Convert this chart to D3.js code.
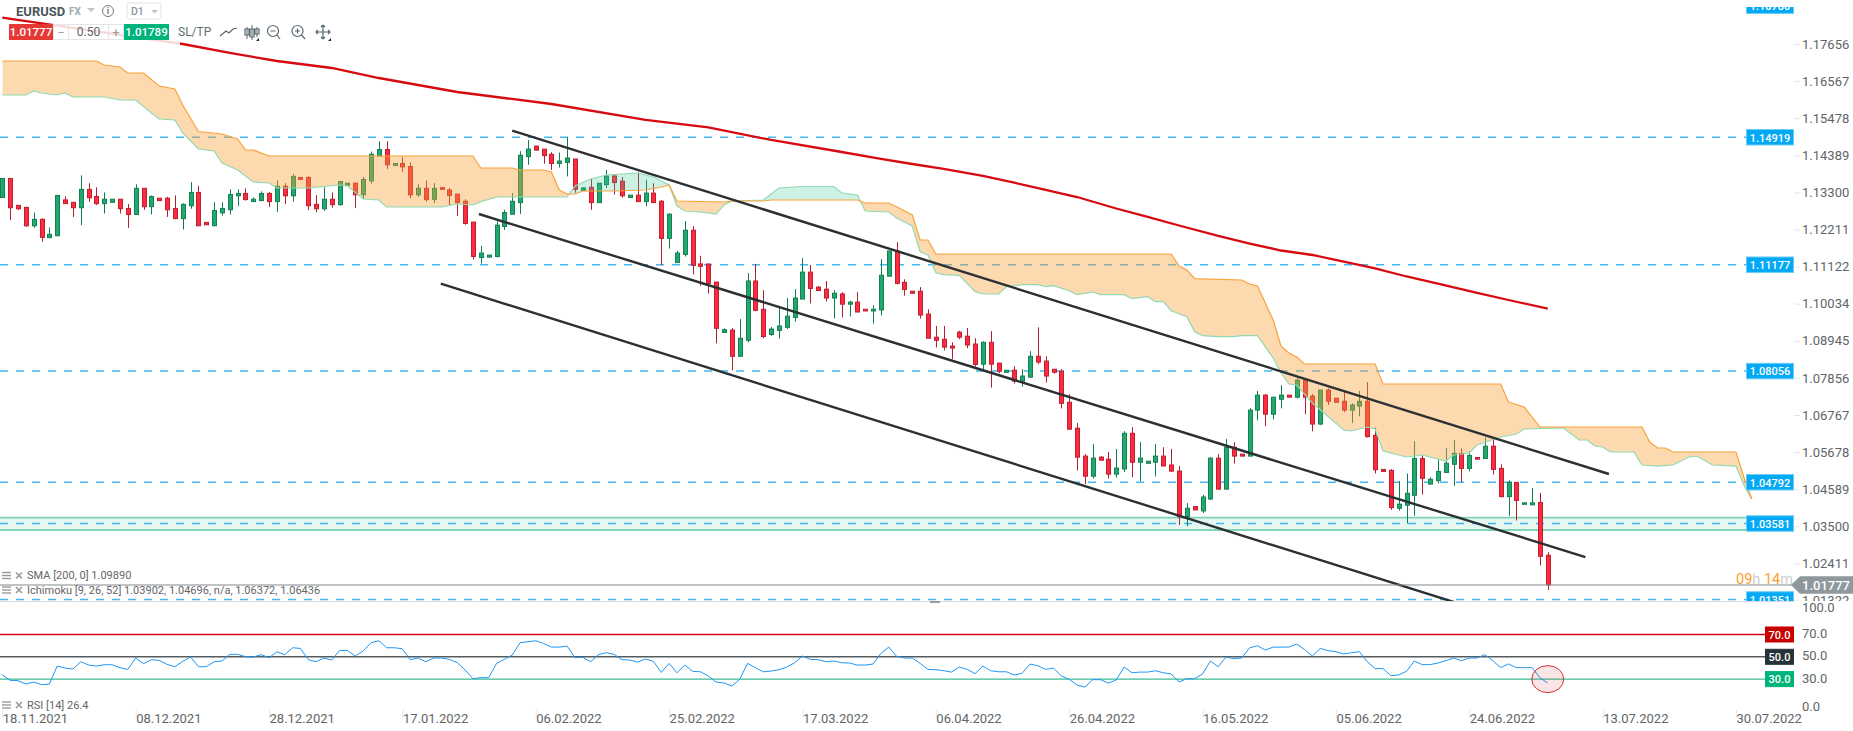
<!DOCTYPE html>
<html><head><meta charset="utf-8"><title>EURUSD</title>
<script src="https://cdnjs.cloudflare.com/ajax/libs/d3/7.8.5/d3.min.js"></script>
<style>
html,body{margin:0;padding:0;background:#fff;overflow:hidden}
svg{display:block;font-family:Roboto,sans-serif}
</style></head><body><svg id="c" width="1853" height="731"></svg>
<script>
// prices in 1/10000
const opens=[11315,11371,11292,11286,11232,11251,11197,11203,11308,11301,
11285,11339,11318,11297,11301,11310,11283,11265,11342,11288,
11313,11313,11283,11253,11291,11330,11242,11232,11270,11279,
11320,11327,11303,11306,11327,11303,11348,11320,11374,11374,
11295,11282,11310,11294,11351,11357,11323,11364,11437,11456,
11409,11415,11406,11323,11342,11310,11344,11337,11325,11304,
11243,11139,11140,11142,11230,11266,11300,11435,11466,11457,
11442,11415,11418,11428,11336,11345,11300,11353,11378,11363,
11315,11322,11303,11328,11304,11195,11124,11148,11219,11120,
11120,11067,10919,10926,10849,10896,11070,10987,10913,10925,
10934,10963,11017,11096,11052,11046,11020,11032,11002,11008,
10987,10982,10985,11084,11158,11066,11040,11040,10973,10905,
10899,10879,10920,10908,10885,10826,10890,10829,10802,10808,
10776,10788,10849,10835,10811,10805,10714,10638,10556,10497,
10553,10547,10503,10518,10623,10538,10535,10538,10556,10530,
10512,10378,10408,10395,10430,10550,10459,10582,10562,10556,
10691,10735,10679,10723,10735,10729,10779,10732,10650,10750,
10726,10717,10691,10703,10717,10617,10517,10514,10403,10412,
10441,10549,10474,10484,10508,10532,10564,10520,10552,10549,
10585,10520,10437,10479,10415,10413,10420,10265];
const closes=[11371,11285,11282,11232,11251,11198,11207,11321,11297,11285,
11339,11314,11297,11310,11310,11282,11265,11342,11288,11318,
11306,11279,11253,11295,11330,11232,11235,11277,11283,11324,
11327,11309,11310,11327,11303,11348,11320,11377,11368,11291,
11282,11310,11294,11362,11357,11323,11368,11442,11456,11411,
11415,11405,11323,11342,11309,11342,11339,11321,11300,11239,
11142,11152,11146,11234,11271,11304,11439,11457,11454,11438,
11415,11422,11431,11339,11343,11300,11357,11378,11359,11320,
11322,11303,11328,11300,11195,11266,11152,11219,11116,11113,
11063,10931,10927,10849,10902,11070,10984,10907,10929,10938,
10967,11020,11096,11048,11042,11020,11034,11002,11008,10979,
10982,10987,11087,11158,11063,11045,11034,10970,10902,10896,
10876,10873,10905,10882,10825,10890,10826,10805,10808,10776,
10791,10849,10832,10791,10802,10711,10635,10553,10497,10550,
10544,10503,10521,10623,10538,10550,10541,10556,10527,10512,
10378,10403,10398,10436,10550,10459,10582,10556,10556,10691,
10735,10679,10729,10735,10729,10779,10729,10650,10750,10717,
10714,10691,10706,10717,10613,10516,10511,10405,10415,10447,
10549,10491,10488,10511,10535,10564,10520,10558,10547,10585,
10517,10437,10479,10426,10419,10419,10262,10178];
const highs=[11371,11371,11292,11288,11271,11254,11227,11323,11319,11301,
11380,11357,11345,11330,11310,11310,11296,11354,11342,11321,
11313,11317,11321,11298,11360,11349,11242,11301,11301,11339,
11339,11342,11315,11333,11331,11365,11357,11384,11374,11377,
11322,11345,11330,11362,11357,11359,11375,11450,11480,11480,
11415,11433,11418,11354,11365,11357,11344,11343,11325,11310,
11243,11173,11146,11245,11279,11328,11451,11484,11466,11457,
11448,11447,11492,11428,11345,11369,11357,11396,11384,11375,
11322,11389,11367,11357,11308,11269,11159,11246,11231,11144,
11120,11067,10931,10932,10958,11093,11120,11043,10935,10994,
11020,11046,11137,11117,11055,11070,11043,11037,11012,11037,
10987,10999,11134,11158,11184,11075,11040,11052,10987,10938,
10938,10890,10924,10932,10902,10893,10923,10829,10808,10820,
10811,10864,10934,10849,10811,10811,10738,10653,10562,10591,
10556,10568,10577,10629,10641,10597,10541,10591,10582,10577,
10527,10418,10408,10442,10553,10562,10606,10597,10562,10697,
10747,10738,10729,10764,10735,10785,10785,10738,10750,10755,
10726,10745,10711,10747,10773,10639,10517,10518,10483,10505,
10600,10558,10494,10545,10579,10603,10579,10570,10552,10611,
10603,10532,10485,10479,10419,10462,10448,10274];
const lows=[11315,11249,11278,11229,11226,11185,11197,11201,11297,11258,
11234,11302,11293,11268,11301,11268,11226,11265,11279,11265,
11306,11258,11253,11221,11282,11232,11235,11232,11262,11265,
11290,11306,11303,11304,11287,11273,11296,11303,11368,11278,
11272,11276,11285,11291,11351,11284,11311,11356,11435,11399,
11409,11391,11313,11317,11303,11299,11339,11292,11261,11235,
11133,11121,11140,11139,11220,11266,11267,11411,11454,11414,
11396,11403,11377,11329,11336,11279,11300,11343,11324,11315,
11315,11303,11289,11300,11116,11165,11124,11142,11089,11056,
11033,10887,10919,10808,10849,10890,10981,10902,10909,10901,
10929,10951,11017,11004,11042,11010,10960,10963,10966,10978,
10982,10945,10969,11084,11060,11027,11034,10960,10902,10875,
10866,10841,10899,10873,10819,10808,10757,10799,10802,10769,
10760,10785,10826,10772,10798,10696,10635,10514,10474,10490,
10544,10490,10493,10509,10494,10482,10535,10496,10526,10509,
10354,10350,10398,10389,10427,10459,10459,10534,10556,10556,
10661,10644,10664,10696,10729,10725,10679,10629,10647,10706,
10714,10685,10653,10673,10611,10505,10511,10398,10396,10358,
10381,10443,10472,10476,10507,10469,10480,10511,10547,10549,
10502,10435,10381,10367,10415,10412,10235,10163];
// SMA 200: [bar, price]
const sma=[[0,1.18428],[23,1.17656],[29,1.17392],[35,1.17157],[42,1.16952],[48,1.16658],[58,1.16247],[70,1.15895],[82,1.15426],[90,1.15206],[98,1.14839],[107,1.14486],[112,1.14281],[116,1.14134],[120,1.13993],[125,1.13782],[129,1.13585],[133,1.13371],[137,1.13165],[142,1.12828],[146,1.12584],[150,1.12329],[155,1.12021],[159,1.118],[163,1.11595],[167,1.11463],[171,1.11272],[175,1.11067],[179,1.10832],[183,1.10621],[188,1.10348],[192,1.10142],[197,1.0989]];
// Ichimoku senkou B (orange)
const spanB=[[0,1.17157],[12,1.17157],[13,1.1704],[15,1.16981],[16,1.16805],[18,1.16805],[20,1.16424],[22,1.16336],[23,1.15866],[25,1.15088],[28,1.15015],[30,1.14868],[31,1.14545],[32,1.14545],[34,1.14369],[60,1.14369],[61,1.14017],[65,1.14017],[66,1.13958],[69,1.13958],[70,1.13899],[71,1.13371],[72,1.13254],[73,1.13254],[74,1.13342],[78,1.13342],[82,1.13371],[84,1.13459],[85,1.13518],[86,1.13048],[92,1.13019],[93,1.13048],[97,1.13048],[98,1.13077],[109,1.13077],[110,1.12989],[113,1.12989],[114,1.12881],[116,1.12637],[117,1.11903],[118,1.11903],[119,1.11492],[149,1.11492],[150,1.1114],[151,1.11022],[152,1.10767],[158,1.10729],[159,1.10612],[160,1.10553],[162,1.09555],[163,1.08792],[164,1.08586],[165,1.08469],[166,1.08263],[175,1.08263],[176,1.07676],[191,1.07676],[192,1.07148],[194,1.07001],[196,1.06414],[209,1.06414],[210,1.05974],[211,1.05798],[212,1.05798],[213,1.0568],[221,1.0568],[222,1.04947],[223,1.04301]];
// Ichimoku senkou A (green)
const spanA=[[0,1.16159],[3,1.16159],[4,1.16277],[5,1.16218],[7,1.16159],[8,1.16218],[9,1.16101],[13,1.16101],[15,1.16013],[17,1.16013],[19,1.15631],[20,1.15455],[22,1.15426],[23,1.15044],[25,1.14574],[27,1.14516],[28,1.14163],[30,1.13958],[32,1.13606],[34,1.13576],[35,1.1343],[39,1.1343],[43,1.13518],[44,1.13488],[46,1.13107],[48,1.13077],[49,1.12872],[56,1.12872],[58,1.1296],[60,1.12931],[61,1.13028],[63,1.13165],[72,1.13165],[73,1.13488],[75,1.13694],[77,1.13811],[81,1.1387],[83,1.13753],[85,1.13518],[86,1.12901],[87,1.12754],[89,1.12725],[91,1.12666],[92,1.12931],[93,1.13048],[97,1.13077],[99,1.1343],[102,1.13474],[106,1.13474],[107,1.13283],[109,1.13224],[110,1.12754],[113,1.12725],[114,1.12549],[116,1.12314],[117,1.1156],[118,1.11463],[119,1.10943],[120,1.10885],[122,1.10867],[124,1.10386],[125,1.10318],[127,1.10318],[128,1.10532],[130,1.10591],[132,1.10591],[133,1.10532],[134,1.10562],[136,1.10415],[137,1.10298],[139,1.10377],[140,1.10298],[143,1.10298],[144,1.1018],[146,1.10239],[147,1.10092],[148,1.10092],[149,1.09828],[151,1.09652],[152,1.09212],[153,1.09094],[155,1.09065],[157,1.09065],[158,1.09094],[160,1.09094],[162,1.0844],[163,1.08],[164,1.07676],[165,1.07647],[167,1.07119],[171,1.06326],[172,1.06297],[174,1.06414],[175,1.06355],[176,1.0571],[179,1.05534],[181,1.05593],[184,1.05417],[185,1.05593],[187,1.05651],[188,1.05886],[191,1.06121],[193,1.06209],[194,1.06355],[199,1.06385],[201,1.06033],[202,1.06033],[203,1.05857],[204,1.05828],[205,1.0568],[208,1.0568],[209,1.05299],[211,1.05269],[213,1.05299],[215,1.05534],[216,1.05563],[218,1.05299],[221,1.05269],[222,1.04712],[223,1.04301]];
const rsi=[33.7,28.9,28.6,25.6,27.4,25.0,25.6,41.7,39.9,39.0,45.6,42.6,41.7,42.9,42.9,40.2,38.7,48.9,43.8,47.4,46.8,43.2,41.1,45.9,49.8,41.1,41.1,45.6,46.2,52.2,52.2,50.1,49.8,51.9,49.2,54.5,51.9,58.1,57.5,47.4,45.6,48.9,47.1,55.7,55.7,50.7,55.2,62.6,64.4,58.1,58.1,57.2,47.4,48.9,45.6,48.9,48.9,47.7,44.7,38.2,30.4,31.3,31.3,44.1,47.7,51.6,62.6,63.5,64.4,62.0,58.7,58.7,59.6,49.2,49.5,45.6,51.9,53.7,52.2,
47.4,47.1,45.3,48.0,45.9,36.0,44.1,35.7,42.6,36.9,36.6,32.8,27.4,26.5,23.8,29.8,44.1,40.2,36.6,37.2,38.4,40.8,44.7,50.7,47.7,47.4,45.6,46.2,44.7,44.4,42.6,42.6,43.5,53.1,58.7,50.4,48.9,48.9,44.1,38.7,38.4,37.5,36.3,40.8,38.7,34.9,41.7,37.5,36.6,36.6,33.7,35.2,43.5,42.0,38.7,39.9,32.8,29.8,24.7,22.9,29.5,29.5,26.5,29.2,40.8,35.7,36.3,36.3,37.5,35.7,34.6,27.4,30.4,30.4,34.6,46.2,41.1,49.8,48.3,48.9,58.1,59.9,56.0,58.7,58.7,58.7,61.4,56.6,50.7,57.5,
55.5,54.6,52.5,53.7,54.6,45.6,39.4,39.4,33.1,33.7,37.0,46.2,43.0,43.0,44.4,46.5,48.9,46.5,48.9,48.9,51.9,46.5,40.3,43.6,40.3,40.3,40.3,31.3,26.4];
const priceTicks=[1.17656,1.16567,1.15478,1.14389,1.133,1.12211,1.11122,1.10034,1.08945,1.07856,1.06767,1.05678,1.04589,1.035,1.02411,1.01322];
const levels=[1.14919,1.11177,1.08056,1.04792,1.03581,1.01351];
const topLevel=1.1878;
const zone=[1.03752,1.03391];
const lastPrice=1.01777;
const rsiLevels=[[70,"#d0021b","#c70000"],[50,"#555c60","#263238"],[30,"#3dbb94","#00b37a"]];
const rsiTicks=[100,70,50,30,0];
const dateBars=[0,17,34,51,68,85,102,119,136,153,170,187,204,221];
const dateLabels=["18.11.2021","08.12.2021","28.12.2021","17.01.2022","06.02.2022","25.02.2022","17.03.2022","06.04.2022","26.04.2022","16.05.2022","05.06.2022","24.06.2022","13.07.2022","30.07.2022"];
// channel lines: start and end as [bar, price]
const channel=[[[65,1.15112],[204.8,1.05035]],[[60.76,1.12666],[201.8,1.02598]],[[55.9,1.1062],[185.3,1.01258]]];

const W=1853,H=731,PANEL=1746,TAGR=1794;
const svg=d3.select("#c");
const x=d3.scaleLinear().domain([0,221]).range([2.3,1736]);
const y=d3.scaleLinear().domain([1.17656,1.01322]).range([44,600.5]);
const yr=d3.scaleLinear().domain([0,100]).range([712.6,601]);
const P=1e-4;
const defs=svg.append("defs");
defs.append("clipPath").attr("id","mainClip").append("rect").attr("y",7).attr("width",W).attr("height",594);
const main=svg.append("g").attr("clip-path","url(#mainClip)");

// zone
main.append("rect").attr("x",0).attr("width",PANEL).attr("y",y(zone[0])).attr("height",y(zone[1])-y(zone[0])).attr("fill","#e6f6f1");
zone.forEach(z=>main.append("line").attr("x1",0).attr("x2",PANEL).attr("y1",y(z)).attr("y2",y(z)).attr("stroke","#7fd4b6").attr("stroke-width",1.8));
// level lines
main.selectAll("line.lv").data(levels).join("line").attr("class","lv").attr("x1",0).attr("x2",PANEL)
 .attr("y1",d=>y(d)).attr("y2",d=>y(d)).attr("stroke","#42b9f3").attr("stroke-width",1.4).attr("stroke-dasharray","8 8");

// candles
const bars=opens.map((o,i)=>({i,o:o*P,c:closes[i]*P,h:highs[i]*P,l:lows[i]*P}));
const cg=main.selectAll("g.k").data(bars).join("g").attr("class","k");
const up=d=>d.c>=d.o;
cg.append("line").attr("x1",d=>Math.round(x(d.i))+.5).attr("x2",d=>Math.round(x(d.i))+.5)
 .attr("y1",d=>y(d.h)).attr("y2",d=>y(d.l)).attr("stroke",d=>up(d)?"#0f7d52":"#b2202f").attr("stroke-width",1);
cg.append("rect").attr("x",d=>Math.round(x(d.i))-1.5).attr("width",4)
 .attr("y",d=>y(Math.max(d.o,d.c))).attr("height",d=>Math.max(y(Math.min(d.o,d.c))-y(Math.max(d.o,d.c)),1.5))
 .attr("fill",d=>up(d)?"#21a871":"#fb2b40").attr("stroke",d=>up(d)?"#13824f":"#c11f30").attr("stroke-width",1);

// cloud
const lineP=d3.line().x(d=>x(d[0])).y(d=>y(d[1]));
const aboveA=d3.area().x(d=>x(d[0])).y0(0).y1(d=>y(d[1]));
const belowA=d3.area().x(d=>x(d[0])).y0(H).y1(d=>y(d[1]));
defs.append("clipPath").attr("id","aAbove").append("path").attr("d",aboveA(spanA));
defs.append("clipPath").attr("id","aBelow").append("path").attr("d",belowA(spanA));
const poly=lineP(spanB.concat(spanA.slice().reverse()))+"Z";
main.append("g").attr("clip-path","url(#aAbove)").append("path").attr("d",poly).attr("fill","#f7a034").attr("fill-opacity",.4);
main.append("g").attr("clip-path","url(#aBelow)").append("path").attr("d",poly).attr("fill","#3cc896").attr("fill-opacity",.25);
main.append("path").attr("d",lineP(spanA)).attr("fill","none").attr("stroke","#92d9b2").attr("stroke-width",1.2);
main.append("path").attr("d",lineP(spanB)).attr("fill","none").attr("stroke","#f9a23c").attr("stroke-width",1.2);

// channel
main.selectAll("path.ch").data(channel).join("path").attr("class","ch").attr("d",lineP)
 .attr("fill","none").attr("stroke","#2b3033").attr("stroke-width",2.4);
// last price line
main.append("line").attr("x1",0).attr("x2",1792).attr("y1",y(lastPrice)).attr("y2",y(lastPrice)).attr("stroke","#858b8e").attr("stroke-width",1);

// price axis
const ax=d3.axisRight(y).tickValues(priceTicks).tickFormat(d3.format(".5f")).tickSize(6).tickPadding(2);
const axg=main.append("g").attr("transform",`translate(${TAGR},0)`).call(ax);
axg.select(".domain").remove();
axg.selectAll(".tick line").attr("stroke","#e6e6e6");
axg.selectAll(".tick text").attr("fill","#5f6568").attr("font-size",13).attr("font-family","Roboto");

// level tags
function tag(g,cy,txt,fill,border,x0=PANEL,x1=TAGR,h=15.5){
  g.append("rect").attr("x",x0+.5).attr("y",cy-h/2).attr("width",x1-x0-1).attr("height",h).attr("fill",fill).attr("stroke",border||fill);
  g.append("text").attr("x",(x0+x1)/2).attr("y",cy+.5).attr("dy",".35em").attr("text-anchor","middle").attr("fill","#fff")
   .attr("font-size",11).attr("font-weight",500).text(txt);
}
levels.forEach(l=>tag(main,y(l),d3.format(".5f")(l),"#03a9f4","#6cccf9"));
tag(main,y(topLevel),d3.format(".5f")(topLevel),"#03a9f4","#6cccf9");

// last price tag
const ly=y(lastPrice);
main.append("text").attr("x",1736).attr("y",ly-.5).attr("font-size",14.5)
 .call(t=>{[["09","#f9a02e"],["h","#cfcfcf"],[" 14","#f9a02e"],["m","#cfcfcf"]].forEach(([s,c])=>t.append("tspan").attr("fill",c).text(s));});
main.append("path").attr("d",`M1791,${ly} L1800,${ly-8.7} H1853 V${ly+8.7} H1800 Z`).attr("fill","#8f989c");
main.append("text").attr("x",1802).attr("y",ly).attr("dy",".36em").attr("fill","#fff").attr("font-size",13).attr("font-weight",500).text("1.01777");

// divider
svg.append("line").attr("x1",0).attr("x2",TAGR).attr("y1",601.5).attr("y2",601.5).attr("stroke","#d9d9d9");
svg.append("rect").attr("x",930).attr("y",601).attr("width",10).attr("height",2).attr("fill","#9b9b9b");

// RSI
rsiLevels.forEach(([v,c,bg])=>{
  svg.append("line").attr("x1",0).attr("x2",1765).attr("y1",yr(v)).attr("y2",yr(v)).attr("stroke",c).attr("stroke-width",1.4);
  tag(svg,yr(v),v.toFixed(1),bg,bg,1765,TAGR,15);
});
const lineR=d3.line().x((d,i)=>x(i)).y(d=>yr(d));
svg.append("path").attr("d",lineR(rsi)).attr("fill","none").attr("stroke","#2196f3").attr("stroke-width",1);
svg.append("ellipse").attr("cx",x(197)).attr("cy",yr(30)).attr("rx",16).attr("ry",13.5).attr("fill","#d32f2f").attr("fill-opacity",.12).attr("stroke","#d32f2f").attr("stroke-width",1);
const rax=d3.axisRight(yr).tickValues(rsiTicks).tickFormat(d3.format(".1f")).tickSize(0).tickPadding(8);
const rg=svg.append("g").attr("transform",`translate(${TAGR},0)`).call(rax);
rg.select(".domain").remove();
rg.selectAll(".tick text").attr("fill","#5f6568").attr("font-size",13).attr("font-family","Roboto")
 .attr("y",d=>d===100?6:d===0?-6:-1);

// date axis
const xa=d3.axisBottom(x).tickValues(dateBars).tickFormat((d,i)=>dateLabels[i]).tickSize(8);
const xg=svg.append("g").attr("transform","translate(0,710)").call(xa);
xg.select(".domain").remove();
xg.selectAll(".tick line").attr("stroke","#e4e4e4");
xg.selectAll(".tick text").attr("text-anchor","start").attr("x",0).attr("y",4).attr("fill","#5f6568").attr("font-size",13).attr("font-family","Roboto");

// indicator legends
function legend(ly,txt){
  const g=svg.append("g").attr("transform",`translate(2,${ly})`);
  [-3,0,3].forEach(o=>g.append("line").attr("x1",0).attr("x2",9).attr("y1",o).attr("y2",o).attr("stroke","#9a9a9a").attr("stroke-width",1.4));
  g.append("path").attr("d","M14,-3 L20,3 M20,-3 L14,3").attr("stroke","#9a9a9a").attr("stroke-width",1.6);
  g.append("text").attr("x",25).attr("y",0).attr("dy",".35em").attr("fill","#666").attr("font-size",11).text(txt);
}
legend(575.5,"SMA [200, 0] 1.09890");
legend(590,"Ichimoku [9, 26, 52] 1.03902, 1.04696, n/a, 1.06372, 1.06436");
legend(705,"RSI [14] 26.4");

// SMA (passes under a translucent toolbar)
svg.append("path").attr("d",lineP(sma)).attr("fill","none").attr("stroke","#d60a0f").attr("stroke-width",2.3);

// toolbar
const tb=svg.append("g");
tb.append("rect").attr("x",53).attr("y",20).attr("width",127).attr("height",26).attr("fill","#fff").attr("fill-opacity",.85);
const tx=(px,py,s,o={})=>tb.append("text").attr("x",px).attr("y",py).attr("dy",".36em").attr("font-size",o.size||12.5).attr("font-weight",o.w||400).attr("fill",o.fill||"#5a6a72").attr("text-anchor",o.a||"start").text(s);
tx(16,11,"EURUSD",{w:700,size:13,fill:"#4a555c"});
tx(69,11,"FX",{w:700,size:10,fill:"#9eaab0"});
tb.append("path").attr("d","M87,8 h8 l-4,4 Z").attr("fill","#bfc6ca");
tb.append("circle").attr("cx",108).attr("cy",11).attr("r",5.5).attr("fill","none").attr("stroke","#6e7b82");
tx(108,11,"i",{size:9,a:"middle",fill:"#6e7b82",w:700});
tb.append("rect").attr("x",127).attr("y",3).attr("width",34).attr("height",16).attr("rx",2.5).attr("fill","#fff").attr("stroke","#e2e2e2");
tx(131,11,"D1",{size:10.5,fill:"#8b979d",w:500});
tb.append("path").attr("d","M151,10 h7 l-3.5,3.5 Z").attr("fill","#bfc6ca");
tb.append("rect").attr("x",9).attr("y",24).attr("width",44).attr("height",16).attr("fill","#e53935");
tx(31,32,"1.01777",{a:"middle",fill:"#fff",w:500,size:11.5});
tb.append("rect").attr("x",53.5).attr("y",24.5).attr("width",70).attr("height",15).attr("fill","none").attr("stroke","#e6e6e6");
tb.append("line").attr("x1",68.5).attr("x2",68.5).attr("y1",24).attr("y2",40).attr("stroke","#e6e6e6");
tb.append("line").attr("x1",108.5).attr("x2",108.5).attr("y1",24).attr("y2",40).attr("stroke","#e6e6e6");
tx(61,32,"−",{a:"middle",fill:"#9e9e9e",size:13});
tx(88.5,32,"0.50",{a:"middle",fill:"#5f6568",size:12});
tx(116,32,"+",{a:"middle",fill:"#9e9e9e",size:13});
tb.append("rect").attr("x",124).attr("y",24).attr("width",45).attr("height",16).attr("fill","#00b37a");
tx(146.5,32,"1.01789",{a:"middle",fill:"#fff",w:500,size:11.5});
tx(178,32,"SL/TP",{size:12,fill:"#5f6f77"});
const ic=tb.append("g").attr("fill","none").attr("stroke","#56666e").attr("stroke-width",1.2);
ic.append("path").attr("d","M220,36 L226,31 L229,33 L233,29 L237,28");
ic.append("path").attr("d","M247,27 v12 M252,25 v15 M257,27 v10").attr("stroke-width",1);
ic.append("path").attr("d","M245,29 h4 v6 h-4 Z M250,29 h4 v8 h-4 Z M255,29 h4 v5 h-4 Z");
ic.append("circle").attr("cx",273).attr("cy",31).attr("r",5.5);
ic.append("path").attr("d","M277,35 L280,39 M270.5,31 h5");
ic.append("circle").attr("cx",297.5).attr("cy",31).attr("r",5.5);
ic.append("path").attr("d","M301.5,35 L305,39 M295,31 h5 M297.5,28.5 v5");
ic.append("path").attr("d","M323,25 v14 M316,32 h14 M321,27 l2,-2 l2,2 M321,37 l2,2 l2,-2 M318,30 l-2,2 l2,2 M328,30 l2,2 l-2,2");
[[259,41],[331,41]].forEach(p=>tb.append("path").attr("d",`M${p[0]},${p[1]} h-3 v0 l3,-3 Z`).attr("fill","#222"));
</script></body></html>
